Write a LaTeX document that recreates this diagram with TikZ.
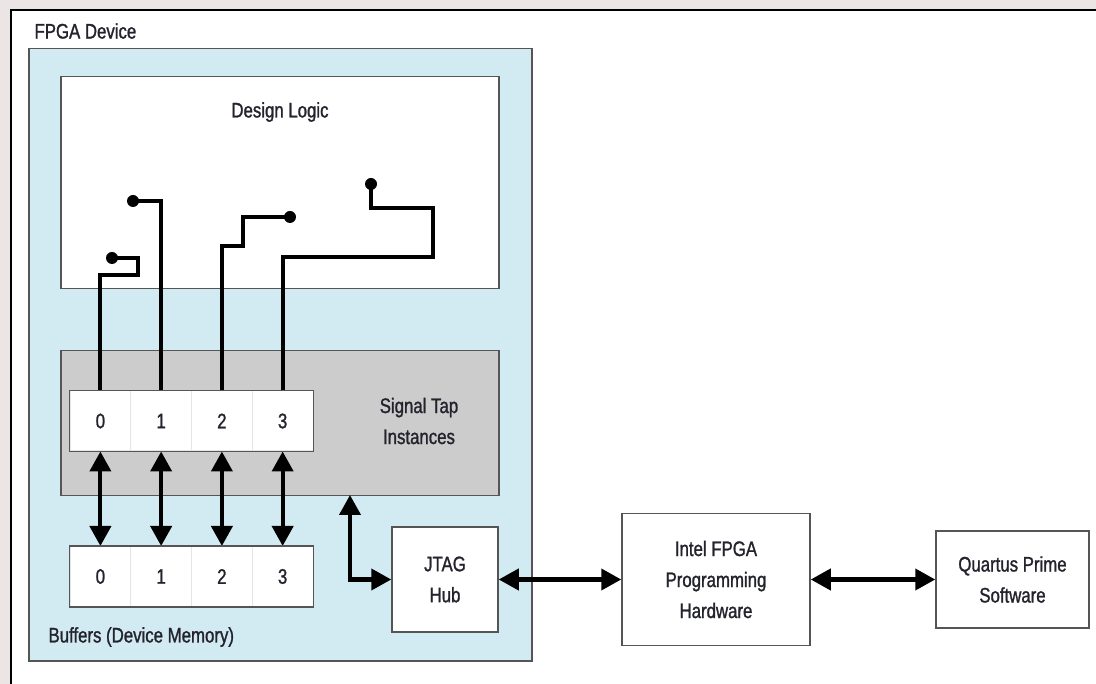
\documentclass[tikz,border=0pt]{standalone}
\usepackage{fontspec}
\setmainfont{Liberation Sans}[FakeStretch=0.8,FakeBold=1.2]
\usepackage{tikz}
\usetikzlibrary{arrows.meta}
\definecolor{bgpink}{RGB}{236,229,230}
\definecolor{devblue}{RGB}{210,235,242}
\definecolor{tapgray}{RGB}{204,204,204}
\definecolor{edge}{RGB}{85,85,85}
\definecolor{ink}{RGB}{35,35,45}

\begin{document}
\begin{tikzpicture}[x=1pt,y=-1pt,
    font=\fontsize{21}{31}\selectfont,text=ink,
    box/.style={draw=edge,line width=1.5pt,inner sep=0pt},
    cell/.style={draw=gray!20,line width=1pt,fill=white,inner sep=0pt,
      minimum width=60.75pt,minimum height=60pt},
    probe/.style={line width=4pt,line join=miter},
    biarrow/.style={line width=4pt,
      {Triangle[width=21pt,length=20pt]}-{Triangle[width=21pt,length=20pt]}}]
    \useasboundingbox (0,0) rectangle (1096,684);
    \fill[bgpink] (0,0) rectangle (1096,684);
    \fill[white] (11,10) rectangle (1100,690);
    \draw[line width=2.5pt] (11,690) -- (11,10) -- (1100,10);

    \node[anchor=west] (fpgalbl) at (31,31) {FPGA Device};
    \node[box,fill=devblue,anchor=north west,minimum width=503pt,minimum height=612pt]
      (device) at (28,48) {};
    \node[box,fill=white,anchor=north west,minimum width=438pt,minimum height=212pt]
      (logic) at (60,76) {};
    \node (logiclbl) at (280,112) {Design Logic};
    \node[box,fill=tapgray,anchor=north west,minimum width=438pt,minimum height=145pt]
      (stap) at (60,350) {};
    \node[align=center] (staplbl) at (419,421) {Signal Tap\\Instances};

    \foreach \i in {0,...,3} {
      \node[cell] (t\i) at ({100.4+60.75*\i},421) {\i};
      \node[cell] (b\i) at ({100.4+60.75*\i},576.5) {\i};
      \draw[biarrow] (t\i.south) -- (b\i.north);
    }
    \draw[edge,line width=1.5pt] (t0.north west) rectangle (t3.south east);
    \draw[edge,line width=1.5pt] (b0.north west) rectangle (b3.south east);
    \node[anchor=west] (buflbl) at (45,637) {Buffers (Device Memory)};

    \coordinate (p0) at (112,258);
    \coordinate (p1) at (133,201);
    \coordinate (p2) at (290,217);
    \coordinate (p3) at (371,184);
    \draw[probe] (t0.north) |- (138,275) |- (p0);
    \draw[probe] (t1.north) |- (p1);
    \draw[probe] (t2.north) |- (243,246) |- (p2);
    \draw[probe] (t3.north) |- (433,257) |- (371,208) -- (p3);
    \foreach \i in {0,...,3} {
      \fill (p\i) circle (6);
    }

    \node[box,fill=white,align=center,minimum width=106pt,minimum height=105pt]
      (jtag) at (445,579.5) {JTAG\\Hub};
    \node[box,fill=white,align=center,minimum width=188pt,minimum height=132pt]
      (intel) at (716,579.5) {Intel FPGA\\Programming\\Hardware};
    \node[box,fill=white,align=center,minimum width=153pt,minimum height=97pt]
      (quartus) at (1012.5,579.5) {Quartus Prime\\Software};

    \coordinate (tapout) at (350,495);
    \draw[biarrow] (tapout) |- (jtag.west);
    \draw[biarrow] (jtag.east) -- (intel.west);
    \draw[biarrow] (intel.east) -- (quartus.west);
  \end{tikzpicture}
\end{document}
